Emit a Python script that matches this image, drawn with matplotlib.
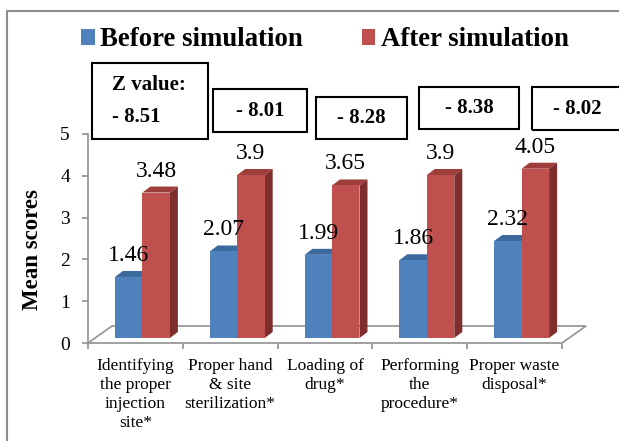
import matplotlib
matplotlib.use('Agg')
import numpy as np
import matplotlib.pyplot as plt
import matplotlib.transforms as mtransforms
from matplotlib.lines import Line2D
from matplotlib.patches import Polygon, Rectangle

plt.rcParams['font.family'] = ['Liberation Serif', 'DejaVu Serif']

# Mean scores before/after the simulation session, per skill
categories = ['Identifying\nthe proper\ninjection\nsite*',
              'Proper hand\n& site\nsterilization*',
              'Loading of\ndrug*',
              'Performing\nthe\nprocedure*',
              'Proper waste\ndisposal*']
before = [1.46, 2.07, 1.99, 1.86, 2.32]
after = [3.48, 3.9, 3.65, 3.9, 4.05]
z_values = [-8.51, -8.01, -8.28, -8.38, -8.02]
series_names = ['Before simulation', 'After simulation']

BLUE, BLUE_TOP = '#4F81BD', '#3D6A9E'
RED, RED_TOP, RED_SIDE = '#C0504D', '#9E3E3B', '#7E2F2D'
GRID = '#999999'

W_PX, H_PX = 619, 441
fig = plt.figure(figsize=(W_PX / 100, H_PX / 100), dpi=100)


def fx(px):
    return px / W_PX


def fy(py):
    return 1 - py / H_PX


# axes: x from 88 to 562 px, y 0 at 343 px, 5 at 134 px
ax = fig.add_axes([fx(88), fy(343), fx(562 - 88), (343 - 134) / H_PX])
ax.set_xlim(-0.5, 4.5)
ax.set_ylim(0, 5)
px_x = (562 - 88) / 5.0     # pixels per category
px_y = (343 - 134) / 5.0    # pixels per score unit

# pseudo-3D: floor depth and bar depth (in pixels)
FLOOR_DX, FLOOR_DY = 24, 17
BAR_SHIFT = (7, 5)
BAR_DX, BAR_DY = 8 / px_x, 6 / px_y

fdx, fdy = FLOOR_DX / px_x, FLOOR_DY / px_y
floor = Polygon([(-0.5, 0), (4.5, 0), (4.5 + fdx, fdy), (-0.5 + fdx, fdy)],
                closed=True, facecolor='white', edgecolor=GRID, lw=1.3,
                clip_on=False, zorder=1)
ax.add_patch(floor)

bar_tr = mtransforms.offset_copy(ax.transData, fig=fig, x=BAR_SHIFT[0],
                                 y=BAR_SHIFT[1], units='dots')
x = np.arange(len(categories))
w = 0.29

for xi, b, a in zip(x, before, after):
    # blue top face (drawn before red so the red front hides its right end)
    x0, x1 = xi - w, xi
    ax.add_patch(Polygon([(x0, b), (x1, b), (x1 + BAR_DX, b + BAR_DY),
                          (x0 + BAR_DX, b + BAR_DY)], closed=True,
                         facecolor=BLUE_TOP, edgecolor='none',
                         transform=bar_tr, clip_on=False, zorder=3))
    x0, x1 = xi, xi + w
    ax.add_patch(Polygon([(x0, a), (x1, a), (x1 + BAR_DX, a + BAR_DY),
                          (x0 + BAR_DX, a + BAR_DY)], closed=True,
                         facecolor=RED_TOP, edgecolor='none',
                         transform=bar_tr, clip_on=False, zorder=3))
    ax.add_patch(Polygon([(x1, 0), (x1, a), (x1 + BAR_DX, a + BAR_DY),
                          (x1 + BAR_DX, BAR_DY)], closed=True,
                         facecolor=RED_SIDE, edgecolor='none',
                         transform=bar_tr, clip_on=False, zorder=3))

bars_b = ax.bar(x - w / 2, before, w, color=BLUE, transform=bar_tr,
                clip_on=False, zorder=4, label=series_names[0])
bars_a = ax.bar(x + w / 2, after, w, color=RED, transform=bar_tr,
                clip_on=False, zorder=4, label=series_names[1])

lab_tr = mtransforms.offset_copy(ax.transData, fig=fig, x=BAR_SHIFT[0],
                                 y=BAR_SHIFT[1] + 16, units='dots')
for xi, b, a in zip(x, before, after):
    ax.text(xi - w / 2, b, f'{b:g}', ha='center', va='baseline',
            fontsize=17, transform=lab_tr, zorder=5)
    ax.text(xi + w / 2, a, f'{a:g}', ha='center', va='baseline',
            fontsize=17, transform=lab_tr, zorder=5)

# axes styling
for s in ['top', 'right', 'bottom']:
    ax.spines[s].set_visible(False)
ax.spines['left'].set_color(GRID)
ax.spines['left'].set_linewidth(1.3)
ax.set_yticks(range(6))
ax.tick_params(axis='y', colors=GRID, length=4, width=1.3, pad=9,
               labelsize=14, labelcolor='black')
ax.set_xticks(x)
ax.set_xticklabels(categories, fontsize=12.5, linespacing=1.25)
ax.tick_params(axis='x', length=0, pad=11)
ax.set_xticks(np.arange(-0.5, 5, 1), minor=True)
ax.tick_params(axis='x', which='minor', colors=GRID, length=4, width=1.3)
ax.patch.set_visible(False)

fig.text(fx(33), fy(250), 'Mean scores', rotation=90, ha='center',
         va='center', fontsize=16.5, fontweight='bold')

fig.legend(handles=[bars_b, bars_a], loc='center',
           bbox_to_anchor=(fx(325), fy(40)), ncol=2, frameon=False,
           prop={'size': 19.3, 'weight': 'bold'}, handlelength=0.5,
           handleheight=0.5, handletextpad=0.2, columnspacing=2.2)

# Z value boxes
boxes = [(92, 63, 208, 139), (213, 89, 307, 132), (316, 97, 407, 139),
         (419, 87, 519, 129), (532, 87, 640, 130)]
for i, ((l, t, r, b), z) in enumerate(zip(boxes, z_values)):
    fig.patches.append(Rectangle((fx(l), fy(b)), fx(r - l), (b - t) / H_PX,
                                 transform=fig.transFigure, fill=False,
                                 edgecolor='black', lw=1.5))
    ztxt = f'- {abs(z):.2f}'
    if i == 0:
        fig.text(fx(l + 20), fy(85), 'Z value:', ha='left', va='center',
                 fontsize=15, fontweight='bold')
        fig.text(fx(l + 20), fy(117), ztxt, ha='left', va='center',
                 fontsize=15, fontweight='bold')
    else:
        cx = (l + min(r, 622)) / 2
        fig.text(fx(cx), fy((t + b) / 2), ztxt, ha='center', va='center',
                 fontsize=15, fontweight='bold')

# outer chart frame (only left and top edges are inside the picture)
fig.lines.append(Line2D([fx(7), fx(7), 1.1], [-0.1, fy(11), fy(11)],
                        transform=fig.transFigure, color='#8C8C8C', lw=1.5))

fig.savefig('out.png', dpi=100)
